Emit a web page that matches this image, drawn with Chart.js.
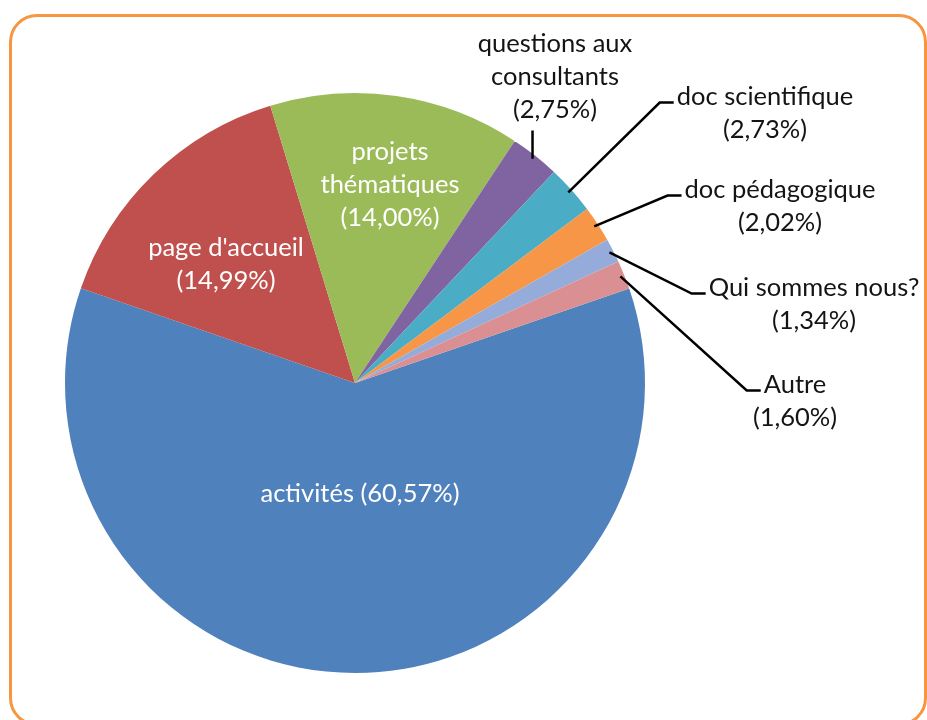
<!DOCTYPE html>
<html>
<head>
<meta charset="utf-8">
<script src="https://cdn.jsdelivr.net/npm/chart.js@4.4.0/dist/chart.umd.min.js"></script>
<style>
  html, body { margin: 0; padding: 0; background: #fff; }
  #wrap { position: relative; width: 927px; height: 720px; overflow: hidden; }
  #frame { position: absolute; left: 9px; top: 14px; width: 918px; height: 712px; border: 3px solid #F7963F; border-radius: 28px; box-sizing: border-box; }
  #chart { position: absolute; left: 0; top: 0; }
</style>
</head>
<body>
<div id="wrap">
  <div id="frame"></div>
  <canvas id="chart" width="927" height="720"></canvas>
</div>
<script>
const categories = ['activités', "page d'accueil", 'projets thématiques', 'questions aux consultants', 'doc scientifique', 'doc pédagogique', 'Qui sommes nous?', 'Autre']
const shares = [60.57, 14.99, 14.00, 2.75, 2.73, 2.02, 1.34, 1.60]
const colors = ['#4F81BD', '#C0504D', '#9BBB59', '#8064A2', '#4BACC6', '#F79646', '#95ACDA', '#DA8F92']

// where each label sits, relative to the pie centre
const labelPlaces = [
    { inside: true, oneLine: true, dx: 5, dy: 111 },
    { inside: true, dx: -129, dy: -119 },
    { inside: true, dx: 35, dy: -198, wrap: 160 },
    { dx: 200, dy: -306, wrap: 190, leader: 'up' },
    { dx: 410, dy: -270, leader: 'elbow' },
    { dx: 425, dy: -177, leader: 'elbow' },
    { dx: 459, dy: -79, leader: 'elbow' },
    { dx: 440, dy: 18, leader: 'elbow' }
]

const fontSize = 25.5
const lineH = 33

const wrapText = (ctx, text, max) => {
    const words = text.split(' ')
    const lines = []
    let cur = ''
    words.forEach(w => {
        const t = cur ? cur + ' ' + w : w
        if (cur && ctx.measureText(t).width > max) {
            lines.push(cur)
            cur = w
        } else cur = t
    })
    lines.push(cur)
    return lines
}

const sliceLabels = {
    id: 'sliceLabels',
    afterDraw(chart) {
        const ctx = chart.ctx
        const arcs = chart.getDatasetMeta(0).data
        ctx.save()
        ctx.font = `${fontSize}px Lato`
        ctx.textAlign = 'center'
        ctx.textBaseline = 'middle'
        arcs.forEach((arc, i) => {
            const place = labelPlaces[i]
            const pct = '(' + shares[i].toFixed(2).replace('.', ',') + '%)'
            const lines = place.oneLine
                ? [categories[i] + ' ' + pct]
                : [...wrapText(ctx, categories[i], place.wrap || 1000), pct]
            const cx = arc.x + place.dx
            const cy = arc.y + place.dy
            const top = cy - (lines.length - 1) * lineH / 2
            ctx.fillStyle = place.inside ? '#ffffff' : '#141414'
            lines.forEach((l, k) => ctx.fillText(l, cx, top + k * lineH))

            if (place.leader) {
                const mid = (arc.startAngle + arc.endAngle) / 2
                const r = arc.outerRadius - 4
                const px = arc.x + Math.cos(mid) * r
                const py = arc.y + Math.sin(mid) * r
                ctx.strokeStyle = '#000'
                ctx.lineWidth = 2.5
                ctx.beginPath()
                ctx.moveTo(px, py)
                if (place.leader === 'up') {
                    ctx.lineTo(px, top + (lines.length - 1) * lineH + lineH / 2 + 4)
                } else {
                    const w = ctx.measureText(lines[0]).width
                    const ex = cx - w / 2 - 3
                    ctx.lineTo(ex - 14, top + 6)
                    ctx.lineTo(ex, top + 6)
                }
                ctx.stroke()
            }
        })
        ctx.restore()
    }
}

const config = {
    type: 'pie',
    data: {
        labels: categories,
        datasets: [{
            data: shares,
            backgroundColor: colors,
            borderWidth: 0,
            hoverOffset: 0
        }]
    },
    options: {
        responsive: false,
        animation: false,
        rotation: 71,
        layout: { padding: { left: 65, right: 282, top: 93, bottom: 47 } },
        plugins: {
            legend: { display: false },
            tooltip: { enabled: false }
        }
    },
    plugins: [sliceLabels]
}

const pieChart = new Chart(document.getElementById('chart'), config)
</script>
</body>
</html>
